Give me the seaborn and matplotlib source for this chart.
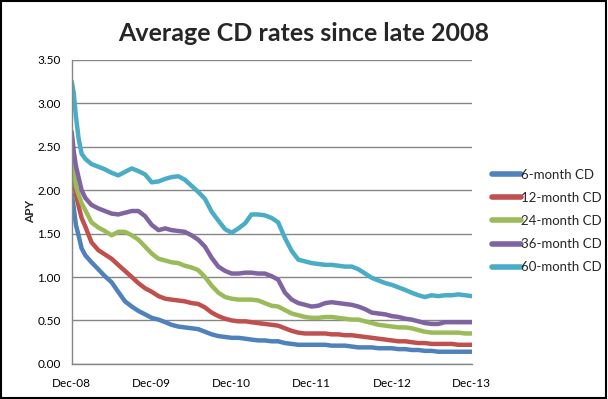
import pandas as pd
import matplotlib.pyplot as plt
import matplotlib.dates as mdates
import seaborn as sns

# Dates: a few extra points in the steep first weeks, then monthly up to Dec-13
dates = ["2008-12-01", "2008-12-10", "2008-12-20", "2009-01-01", "2009-01-15"] + \
    [f"{y}-{m:02d}-01" for y in range(2009, 2014) for m in range(1, 13) if not (y == 2009 and m == 1)]

cd_6m = [1.96, 1.80, 1.60, 1.48, 1.33, 1.25, 1.17, 1.09, 1.01, 0.94, 0.83, 0.72, 0.66, 0.61, 0.57,
         0.53, 0.51, 0.48, 0.45, 0.43, 0.42, 0.41, 0.40, 0.37, 0.34, 0.32, 0.31, 0.30, 0.30, 0.29,
         0.28, 0.27, 0.27, 0.26, 0.26, 0.24, 0.23, 0.22, 0.22, 0.22, 0.22, 0.22, 0.21, 0.21, 0.21,
         0.20, 0.19, 0.19, 0.19, 0.18, 0.18, 0.18, 0.17, 0.17, 0.16, 0.16, 0.15, 0.15, 0.14, 0.14,
         0.14, 0.14, 0.14, 0.14]
cd_12m = [2.42, 2.15, 1.95, 1.82, 1.68, 1.58, 1.40, 1.31, 1.26, 1.21, 1.14, 1.07, 1.00, 0.93, 0.87,
          0.83, 0.78, 0.75, 0.74, 0.73, 0.72, 0.70, 0.69, 0.65, 0.59, 0.55, 0.52, 0.50, 0.49, 0.49,
          0.48, 0.47, 0.46, 0.45, 0.44, 0.41, 0.38, 0.36, 0.35, 0.35, 0.35, 0.35, 0.34, 0.34, 0.33,
          0.33, 0.32, 0.31, 0.30, 0.29, 0.28, 0.27, 0.26, 0.26, 0.25, 0.24, 0.24, 0.23, 0.23, 0.23,
          0.23, 0.22, 0.22, 0.22]
cd_24m = [2.50, 2.25, 2.05, 1.95, 1.85, 1.77, 1.63, 1.57, 1.53, 1.48, 1.52, 1.52, 1.48, 1.43, 1.35,
          1.27, 1.21, 1.19, 1.17, 1.16, 1.13, 1.11, 1.08, 1.00, 0.90, 0.82, 0.77, 0.75, 0.74, 0.74,
          0.74, 0.73, 0.70, 0.67, 0.66, 0.62, 0.58, 0.56, 0.54, 0.53, 0.53, 0.54, 0.54, 0.53, 0.52,
          0.51, 0.51, 0.49, 0.47, 0.45, 0.44, 0.43, 0.42, 0.42, 0.41, 0.39, 0.37, 0.36, 0.36, 0.36,
          0.36, 0.36, 0.35, 0.35]
cd_36m = [2.67, 2.45, 2.28, 2.15, 2.00, 1.91, 1.83, 1.79, 1.76, 1.73, 1.72, 1.74, 1.76, 1.76, 1.70,
          1.60, 1.54, 1.56, 1.54, 1.53, 1.52, 1.48, 1.43, 1.35, 1.22, 1.12, 1.07, 1.04, 1.04, 1.05,
          1.05, 1.04, 1.04, 1.01, 0.97, 0.82, 0.74, 0.70, 0.68, 0.66, 0.67, 0.70, 0.71, 0.70, 0.69,
          0.68, 0.66, 0.63, 0.59, 0.58, 0.57, 0.55, 0.54, 0.52, 0.51, 0.49, 0.47, 0.46, 0.46, 0.48,
          0.48, 0.48, 0.48, 0.48]
cd_60m = [3.25, 3.12, 2.85, 2.60, 2.42, 2.36, 2.30, 2.27, 2.24, 2.20, 2.17, 2.21, 2.25, 2.22, 2.18,
          2.09, 2.10, 2.13, 2.15, 2.16, 2.12, 2.05, 1.98, 1.90, 1.75, 1.65, 1.55, 1.51, 1.56, 1.62,
          1.72, 1.72, 1.71, 1.68, 1.63, 1.45, 1.30, 1.20, 1.18, 1.16, 1.15, 1.14, 1.14, 1.13, 1.12,
          1.12, 1.09, 1.04, 0.99, 0.96, 0.93, 0.91, 0.88, 0.85, 0.82, 0.79, 0.77, 0.79, 0.78, 0.79,
          0.79, 0.80, 0.79, 0.78]

series_names = ["6-month CD", "12-month CD", "24-month CD", "36-month CD", "60-month CD"]
colors = ["#4F81BD", "#C0504D", "#9BBB59", "#8064A2", "#4BACC6"]
tick_dates = ["2008-12-01", "2009-12-01", "2010-12-01", "2011-12-01", "2012-12-01", "2013-12-01"]

frames = []
for name, vals in zip(series_names, [cd_6m, cd_12m, cd_24m, cd_36m, cd_60m]):
    frames.append(pd.DataFrame({"date": pd.to_datetime(dates), "apy": vals, "term": name}))
df = pd.concat(frames, ignore_index=True)

sns.set_theme(style="white")
plt.rcParams['font.family'] = ['Lato', 'DejaVu Sans']

fig = plt.figure(figsize=(6.08, 3.99), dpi=100)
ax = fig.add_axes([0.118, 0.088, 0.658, 0.762])

sns.lineplot(data=df, x="date", y="apy", hue="term", hue_order=series_names,
             palette=colors, linewidth=3.2, ax=ax, legend=True)

ax.set_ylim(0, 3.5)
ax.set_yticks([0.5 * i for i in range(8)])
ax.yaxis.set_major_formatter(plt.FuncFormatter(lambda v, p: f"{v:.2f}"))
ax.set_xlim(pd.Timestamp("2008-12-01"), pd.Timestamp("2013-12-01"))
ax.set_xticks(pd.to_datetime(tick_dates))
ax.xaxis.set_major_formatter(mdates.DateFormatter("%b-%y"))
ax.tick_params(axis="both", labelsize=8.5, colors="black", length=0, pad=8)
ax.tick_params(axis="x", pad=10)

ax.grid(axis="y", color="#868686", linewidth=1)
ax.set_axisbelow(True)
for side in ["top", "right"]:
    ax.spines[side].set_visible(False)
for side in ["left", "bottom"]:
    ax.spines[side].set_color("#868686")
    ax.spines[side].set_linewidth(1)

ax.set_xlabel("")
ax.set_ylabel("APY", fontsize=8.5, fontweight="bold", labelpad=1)

leg = ax.legend(loc="center left", bbox_to_anchor=(1.02, 0.47), frameon=False,
                fontsize=9.5, handlelength=2.2, handletextpad=0.05, labelspacing=0.85)
for line in leg.get_lines():
    line.set_linewidth(4)

fig.suptitle("Average CD rates since late 2008", fontsize=18, fontweight="bold", y=0.945)

# chart border
fig.patches.append(plt.Rectangle((0.002, 0.003), 0.995, 0.994, transform=fig.transFigure,
                                 fill=False, edgecolor="black", linewidth=1.5))

plt.savefig("out.png", dpi=100)
plt.close()
